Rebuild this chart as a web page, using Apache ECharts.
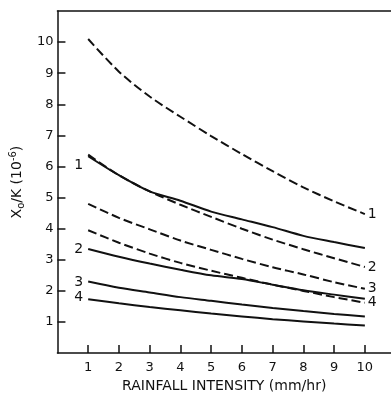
<!DOCTYPE html>
<html>
<head>
<meta charset="utf-8">
<script src="https://cdn.jsdelivr.net/npm/echarts@6/dist/echarts.min.js"></script>
<style>
  html, body { margin: 0; padding: 0; background: #fff; }
  #chart { width: 391px; height: 398px; }
</style>
</head>
<body>
<div id="chart"></div>
<script>
// Rainfall intensity (mm/hr)
const intensity = [1, 2, 3, 4, 5, 6, 7, 8, 9, 10];
const tickValues = [1, 2, 3, 4, 5, 6, 7, 8, 9, 10];

// solid curves, labelled 1-4 on the left
const solid1 = [6.33, 5.72, 5.2, 4.9, 4.55, 4.3, 4.05, 3.77, 3.57, 3.38];
const solid2 = [3.35, 3.1, 2.88, 2.68, 2.5, 2.38, 2.2, 2.02, 1.88, 1.75];
const solid3 = [2.3, 2.1, 1.95, 1.8, 1.68, 1.56, 1.45, 1.35, 1.26, 1.18];
const solid4 = [1.73, 1.6, 1.48, 1.38, 1.27, 1.18, 1.09, 1.02, 0.95, 0.89];

// dashed curves, labelled 1-4 on the right
const dashed1 = [10.1, 9.05, 8.25, 7.6, 6.98, 6.4, 5.85, 5.33, 4.88, 4.47];
const dashed2 = [6.38, 5.72, 5.2, 4.77, 4.38, 4.0, 3.65, 3.34, 3.05, 2.77];
const dashed3 = [4.8, 4.35, 3.98, 3.62, 3.32, 3.03, 2.76, 2.53, 2.28, 2.07];
const dashed4 = [3.95, 3.55, 3.2, 2.9, 2.65, 2.42, 2.2, 2.0, 1.8, 1.62];

const ink = '#111';
const font = 'DejaVu Sans';

function pairs(values) {
    return intensity.map((x, i) => [x, values[i]]);
}

function solidSeries(name, values, offsetY) {
    return {
        name: name,
        type: 'line',
        data: pairs(values),
        smooth: 0.3,
        showSymbol: true,
        symbol: 'circle',
        symbolSize: 0,
        lineStyle: { color: ink, width: 2 },
        label: {
            show: true,
            position: 'left',
            distance: 5,
            offset: [0, offsetY],
            color: ink,
            fontFamily: font,
            fontSize: 14,
            formatter: p => (p.dataIndex === 0 ? name : '')
        }
    };
}

function dashedSeries(name, values) {
    return {
        name: name,
        type: 'line',
        data: pairs(values),
        smooth: 0.3,
        showSymbol: false,
        symbol: 'none',
        lineStyle: { color: ink, width: 2, type: [9, 4] },
        endLabel: {
            show: true,
            distance: 3,
            color: ink,
            fontFamily: font,
            fontSize: 14,
            formatter: name
        }
    };
}

const chart = echarts.init(document.getElementById('chart'));

chart.setOption({
    backgroundColor: '#fff',
    animation: false,
    grid: { left: 54, right: 0, top: 11, bottom: 41 },
    xAxis: [
        {
            type: 'value',
            min: 0,
            max: 10.85,
            name: 'RAINFALL INTENSITY (mm/hr)',
            nameLocation: 'middle',
            nameGap: 25,
            nameTextStyle: { color: ink, fontFamily: font, fontSize: 14 },
            axisLine: { lineStyle: { color: ink, width: 1.5 } },
            axisTick: {
                inside: true,
                length: 8,
                customValues: tickValues,
                lineStyle: { color: ink, width: 1.5 }
            },
            axisLabel: {
                customValues: tickValues,
                color: ink,
                fontFamily: font,
                fontSize: 13,
                margin: 8
            },
            splitLine: { show: false }
        },
        {
            type: 'value',
            position: 'top',
            min: 0,
            max: 10.85,
            axisLine: { show: true, lineStyle: { color: ink, width: 1.5 } },
            axisTick: { show: false },
            axisLabel: { show: false },
            splitLine: { show: false }
        }
    ],
    yAxis: {
        type: 'value',
        min: 0,
        max: 11,
        name: '{a|X}{b|o}{a|/K (10}{c|-6}{a|)}',
        nameLocation: 'middle',
        nameGap: 22,
        nameRotate: 90,
        nameTextStyle: {
            color: ink,
            fontFamily: font,
            rich: {
                a: { fontSize: 14, fontFamily: font, color: ink, lineHeight: 18 },
                b: { fontSize: 10, fontFamily: font, color: ink, lineHeight: 18, verticalAlign: 'bottom', padding: [6, 0, 0, 0] },
                c: { fontSize: 10, fontFamily: font, color: ink, lineHeight: 18, verticalAlign: 'top', padding: [0, 0, 6, 0] }
            }
        },
        axisLine: { show: true, lineStyle: { color: ink, width: 1.5 } },
        axisTick: {
            inside: true,
            length: 8,
            customValues: tickValues,
            lineStyle: { color: ink, width: 1.5 }
        },
        axisLabel: {
            customValues: tickValues,
            color: ink,
            fontFamily: font,
            fontSize: 13,
            margin: 4
        },
        splitLine: { show: false }
    },
    series: [
        dashedSeries('1', dashed1),
        dashedSeries('2', dashed2),
        dashedSeries('3', dashed3),
        dashedSeries('4', dashed4),
        solidSeries('1', solid1, 9),
        solidSeries('2', solid2, 0),
        solidSeries('3', solid3, 1),
        solidSeries('4', solid4, -2)
    ]
});

window.addEventListener('resize', function() {
    chart.resize();
});
</script>
</body>
</html>
